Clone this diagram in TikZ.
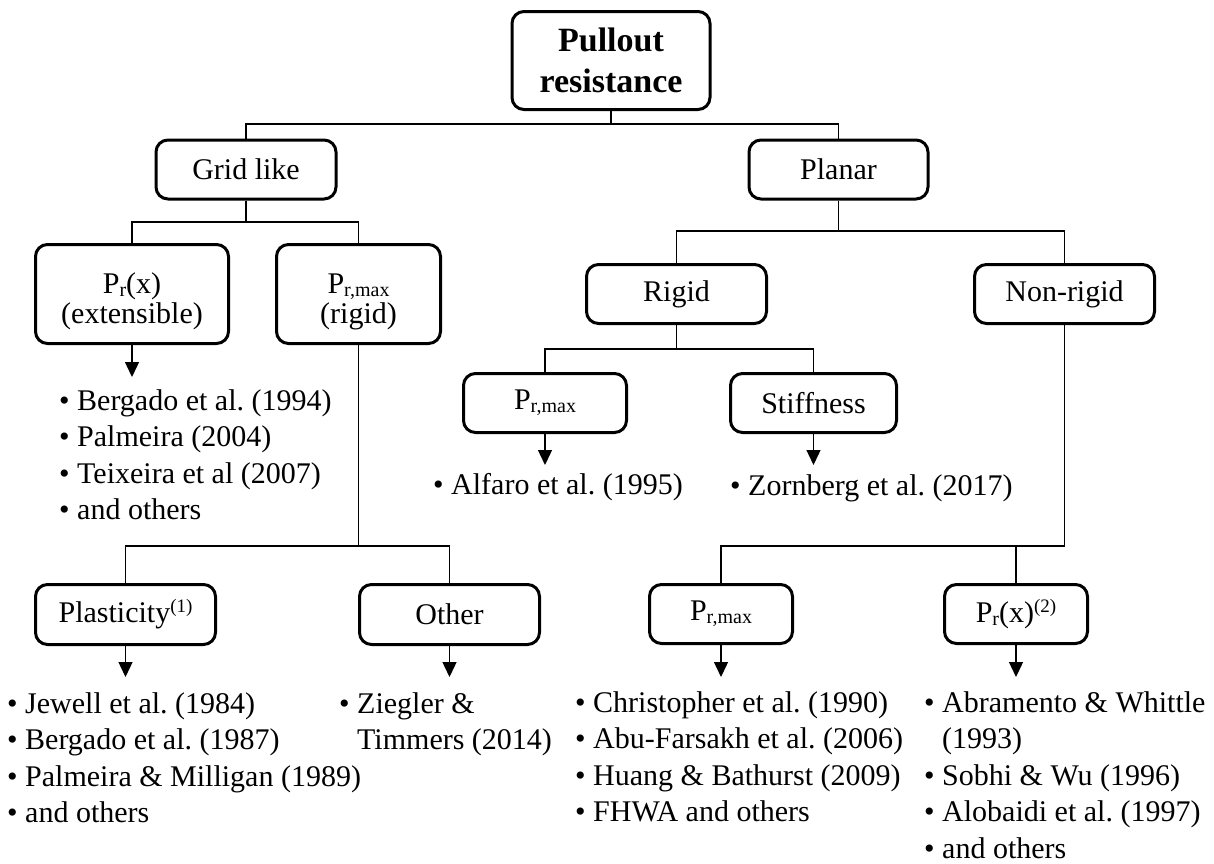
\documentclass[tikz,border=0pt]{standalone}
\usepackage{fontspec}
\setmainfont{Liberation Serif}
\usetikzlibrary{arrows.meta}
\frenchspacing
\newcommand{\psub}[1]{\raisebox{-3pt}{\fontsize{20}{20}\selectfont #1}}
\newcommand{\psup}[1]{\raisebox{10pt}{\fontsize{19}{19}\selectfont #1}}
\newcommand{\lowtop}{\rule{0pt}{35pt}}
\tikzstyle{box} = [rectangle, 
rounded corners=12pt, 
draw=black, 
line width=3pt,
text centered, 
align=center,
inner sep=2pt,
font=\fontsize{30}{30}\selectfont]
\tikzstyle{rootbox} = [box, 
font=\fontsize{34}{41}\selectfont\bfseries]
\tikzstyle{refs} = [anchor=north west, 
inner sep=0pt, 
align=left, 
font=\fontsize{30}{36.5}\selectfont]
\tikzstyle{link} = [line width=1.3pt]
\tikzstyle{arrow} = [line width=1.3pt,-{Triangle[width=14pt,length=15pt]}]

\begin{document}
\begin{tikzpicture}[x=1pt, y=-1pt]
		\useasboundingbox (0,0) rectangle (1214,863);
		\node (root) [rootbox, minimum width=198, minimum height=98] at (611,60.5) {Pullout\\resistance};
		\node (grid) [box, minimum width=180, minimum height=59] at (246,169.5) {Grid like};
		\node (planar) [box, minimum width=179, minimum height=59] at (838.5,169.5) {Planar};
		\node (prx) [box, minimum width=193, minimum height=99] at (132,294) {\lowtop P\psub{r}(x)\\(extensible)};
		\node (prmaxg) [box, minimum width=164, minimum height=99] at (358.5,294) {\lowtop P\psub{r,max}\\(rigid)};
		\node (rigid) [box, minimum width=180, minimum height=59] at (676.5,294) {Rigid};
		\node (nonrigid) [box, minimum width=180, minimum height=59] at (1064.5,294) {Non-rigid};
		\node (prmaxp) [box, minimum width=163, minimum height=59] at (545,403) {P\psub{r,max}};
		\node (stiff) [box, minimum width=166, minimum height=59] at (813.5,403) {Stiffness};
		\node (plast) [box, minimum width=180, minimum height=60] at (125.5,614.5) {Plasticity\psup{(1)}};
		\node (other) [box, minimum width=180, minimum height=60] at (449.5,614.5) {Other};
		\node (prmaxnr) [box, minimum width=143, minimum height=59] at (721,614) {P\psub{r,max}};
		\node (prxnr) [box, minimum width=143, minimum height=59] at (1016,614) {P\psub{r}(x)\psup{(2)}};
	
		\node (bergado) [refs] at (59,389) {\textbullet~Bergado et al. (1994)\\\textbullet~Palmeira (2004)\\\textbullet~Teixeira et al (2007)\\\textbullet~and others};
		\node (alfaro) [refs] at (433,473) {\textbullet~Alfaro et al. (1995)};
		\node (zornberg) [refs] at (730,474) {\textbullet~Zornberg et al. (2017)};
		\node (jewell) [refs] at (7,692) {\textbullet~Jewell et al. (1984)\\\textbullet~Bergado et al. (1987)\\\textbullet~Palmeira \& Milligan (1989)\\\textbullet~and others};
		\node (ziegler) [refs] at (339,692) {\textbullet~Ziegler \&\\\phantom{\textbullet~}Timmers (2014)};
		\node (christopher) [refs] at (575,691) {\textbullet~Christopher et al. (1990)\\\textbullet~Abu-Farsakh et al. (2006)\\\textbullet~Huang \& Bathurst (2009)\\\textbullet~FHWA and others};
		\node (abramento) [refs] at (924,691) {\textbullet~Abramento \& Whittle\\\phantom{\textbullet~}(1993)\\\textbullet~Sobhi \& Wu (1996)\\\textbullet~Alobaidi et al. (1997)\\\textbullet~and others};
	
		\draw [link] (root.south) -- ++(0,13) -| (grid.north);
		\draw [link] (root.south) -- ++(0,13) -| (planar.north);
		\draw [link] (grid.south) -- ++(0,21.5) -| (prx.north);
		\draw [link] (grid.south) -- ++(0,21.5) -| (prmaxg.north);
		\draw [link] (planar.south) -- ++(0,30.5) -| (rigid.north);
		\draw [link] (planar.south) -- ++(0,30.5) -| (nonrigid.north);
		\draw [link] (rigid.south) -- ++(0,24) -| (prmaxp.north);
		\draw [link] (rigid.south) -- ++(0,24) -| (stiff.north);
		\draw [link] (prmaxg.south) -- ++(0,201) -| (plast.north);
		\draw [link] (prmaxg.south) -- ++(0,201) -| (other.north);
		\draw [link] (nonrigid.south) -- ++(0,221) coordinate (jnr) -| (prmaxnr.north);
		\draw [link] (prxnr.north) -- (prxnr.north |- jnr);
	
		\draw [arrow, shorten >=12pt] (prx.south) -- (prx.south |- bergado.north);
		\draw [arrow, shorten >=8pt] (prmaxp.south) -- (prmaxp.south |- alfaro.north);
		\draw [arrow, shorten >=9pt] (stiff.south) -- (stiff.south |- zornberg.north);
		\draw [arrow, shorten >=15pt] (plast.south) -- (plast.south |- jewell.north);
		\draw [arrow, shorten >=15pt] (other.south) -- (other.south |- ziegler.north);
		\draw [arrow, shorten >=14pt] (prmaxnr.south) -- (prmaxnr.south |- christopher.north);
		\draw [arrow, shorten >=14pt] (prxnr.south) -- (prxnr.south |- abramento.north);
	\end{tikzpicture}
\end{document}
